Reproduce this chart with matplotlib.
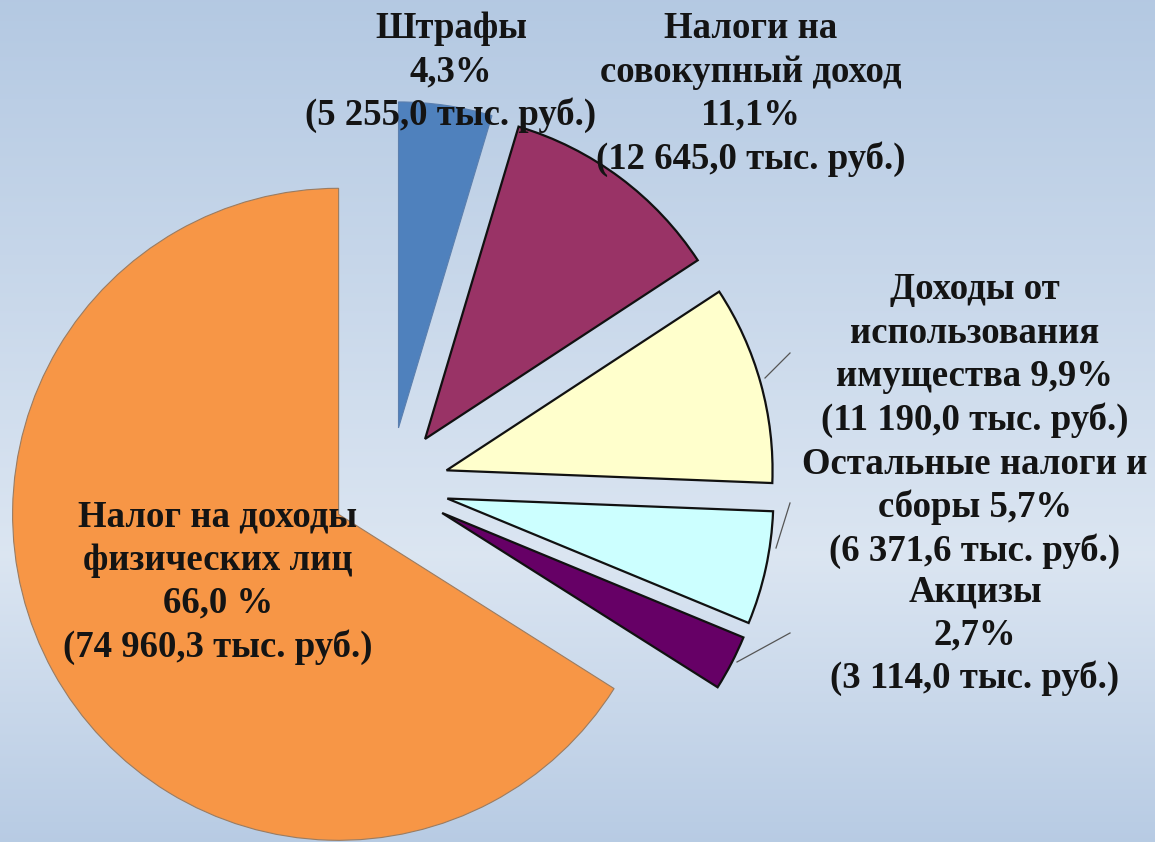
#=========================================================================
# pie chart: structure of tax and non-tax revenues
#=========================================================================

import matplotlib
matplotlib.use('Agg')
import matplotlib.pyplot as plt
import numpy as np

#-------------------------------------------------------------------------
# Data
#-------------------------------------------------------------------------

names = [
  'Штрафы',
  'Налоги на\nсовокупный доход',
  'Доходы от\nиспользования\nимущества',
  'Остальные налоги и\nсборы',
  'Акцизы',
  'Налог на доходы\nфизических лиц',
]

pct_labels = [ '4,3%', '11,1%', '9,9%', '5,7%', '2,7%', '66,0 %' ]

# thousand rubles
values = [ 5255.0, 12645.0, 11190.0, 6371.6, 3114.0, 74960.3 ]

#-------------------------------------------------------------------------
# Style
#-------------------------------------------------------------------------

W, H = 1155, 842

colors = [ '#4F81BD', '#993366', '#FFFFCC', '#CCFFFF', '#660066', '#F79646' ]
edges  = [ '#5b7fae', '#111111', '#111111', '#111111', '#111111', '#9a7c62' ]
lwidth = [ 0.8, 1.6, 1.6, 1.6, 1.6, 0.8 ]
seps   = [ '\n', '\n', ' ', ' ', '\n', '\n' ]

radius = 326
center = ( 390, H - 486 )
explode = [ 0.18 * radius ] * len( values )

label_pos = [
  ( 451, H - 72 ),
  ( 751, H - 94 ),
  ( 975, H - 355 ),
  ( 975, H - 508 ),
  ( 975, H - 635 ),
  ( 218, H - 582 ),
]

leaders = [
  ( ( 765, 790 ), ( 378, 353 ) ),
  ( ( 776, 790 ), ( 548, 503 ) ),
  ( ( 737, 790 ), ( 662, 633 ) ),
]

def fmt_value( v ):
  s = '{:,.1f}'.format( v ).replace( ',', ' ' ).replace( '.', ',' )
  return '(' + s + ' тыс. руб.)'

#-------------------------------------------------------------------------
# Create plot
#-------------------------------------------------------------------------

plt.rcParams['font.family'] = [ 'Liberation Serif', 'DejaVu Serif' ]

fig = plt.figure( figsize=( W/100.0, H/100.0 ), dpi=100 )
ax  = fig.add_axes( [ 0, 0, 1, 1 ] )

# background gradient (light in the lower middle)

t   = np.linspace( 0, 1, 400 )
top = np.array( [ 0.706, 0.788, 0.888 ] )
mid = np.array( [ 0.860, 0.900, 0.948 ] )
bot = np.array( [ 0.720, 0.797, 0.893 ] )
grad = np.empty( ( len(t), 1, 3 ) )
for i, tv in enumerate( t ):
  if tv < 0.66:
    a = tv / 0.66
    grad[i, 0] = top + ( mid - top ) * a
  else:
    a = ( tv - 0.66 ) / 0.34
    grad[i, 0] = mid + ( bot - mid ) * a
ax.imshow( grad, extent=[ 0, W, 0, H ], aspect='auto', zorder=0 )

wedges, _ = ax.pie( values, colors=colors, explode=explode, radius=radius,
                    center=center, startangle=90, counterclock=False,
                    frame=True )

for w, ec, lw in zip( wedges, edges, lwidth ):
  w.set_edgecolor( ec )
  w.set_linewidth( lw )
  w.set_zorder( 2 )

for xs, ys in leaders:
  ax.plot( xs, [ H - y for y in ys ], color='#555555', lw=0.9, zorder=3 )

for name, pct, val, sep, pos in zip( names, pct_labels, values, seps, label_pos ):
  txt = name + sep + pct + '\n' + fmt_value( val )
  ax.text( pos[0], pos[1], txt, ha='center', va='center',
           multialignment='center', fontsize=26.5, fontweight='bold',
           color='#141414', linespacing=1.3, zorder=4 )

ax.set_xlim( 0, W )
ax.set_ylim( 0, H )
ax.set_aspect( 'equal' )
ax.axis( 'off' )

plt.savefig( 'out.png', dpi=100 )
